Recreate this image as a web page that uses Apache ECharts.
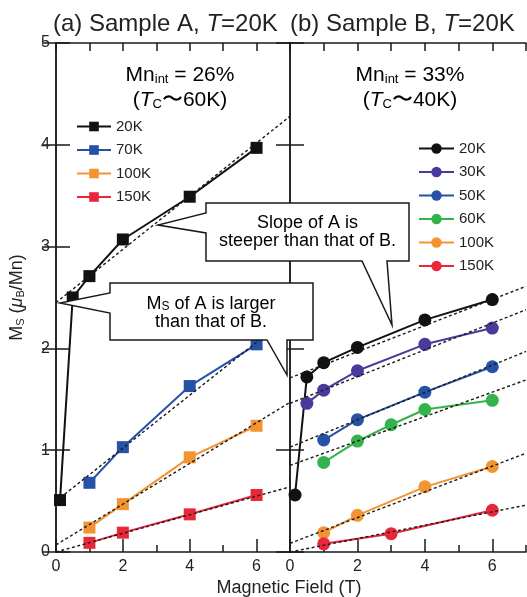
<!DOCTYPE html>
<html>
<head>
<meta charset="utf-8">
<title>Ms vs magnetic field, sample A / sample B</title>
<script src="https://cdn.jsdelivr.net/npm/echarts@6/dist/echarts.min.js"></script>
<style>
  html, body { margin: 0; padding: 0; background: #fff; }
  #chart { width: 527px; height: 597px; }
</style>
</head>
<body>
<div id="chart"></div>
<script>
// --- data: [field (T), Ms (muB/Mn)] ---
// sample A (squares)
const a20K  = [[0.12, 0.51], [0.5, 2.5], [1, 2.71], [2, 3.07], [4, 3.49], [6, 3.97]];
const a70K  = [[1, 0.68], [2, 1.03], [4, 1.63], [6, 2.04]];
const a100K = [[1, 0.24], [2, 0.47], [4, 0.93], [6, 1.24]];
const a150K = [[1, 0.09], [2, 0.19], [4, 0.37], [6, 0.56]];
// sample B (circles)
const b20K  = [[0.15, 0.56], [0.5, 1.72], [1, 1.86], [2, 2.01], [4, 2.28], [6, 2.48]];
const b30K  = [[0.5, 1.46], [1, 1.59], [2, 1.78], [4, 2.04], [6, 2.2]];
const b50K  = [[1, 1.1], [2, 1.3], [4, 1.57], [6, 1.82]];
const b60K  = [[1, 0.88], [2, 1.09], [3, 1.25], [4, 1.4], [6, 1.49]];
const b100K = [[1, 0.19], [2, 0.36], [4, 0.64], [6, 0.84]];
const b150K = [[1, 0.08], [3, 0.18], [6, 0.41]];

// dotted linear fits, value at each end of fitX
const fitX = [0, 7];
const fitA20K = [2.45, 4.28];
const fitA70K = [0.5, 2.32];
const fitA100K = [0.07, 1.47];
const fitA150K = [0.0, 0.64];
const fitB20K = [1.71, 2.61];
const fitB30K = [1.46, 2.38];
const fitB50K = [1.03, 1.97];
const fitB60K = [0.85, 1.69];
const fitB100K = [0.085, 0.97];
const fitB150K = [0.0, 0.46];

const legendA = ['A 20K', 'A 70K', 'A 100K', 'A 150K'];
const legendB = ['B 20K', 'B 30K', 'B 50K', 'B 60K', 'B 100K', 'B 150K'];

const ink = '#1a1a1a';
const font = '"Liberation Sans", Arial, Helvetica, sans-serif';
const black = '#111111', blue = '#2551a6', orange = '#f29431',
      red = '#e8273b', purple = '#4b399b', green = '#34b24c';

function dataLine(name, pts, color, symbol, size, xi, yi) {
  return {
    name: name, type: 'line', xAxisIndex: xi, yAxisIndex: yi, data: pts,
    symbol: symbol, symbolSize: size, showSymbol: true,
    itemStyle: { color: color },
    lineStyle: { color: color, width: 2 },
    emphasis: { disabled: true }, z: 2
  };
}

function fitLine(vals, xi, yi) {
  return {
    type: 'line', xAxisIndex: xi, yAxisIndex: yi, silent: true,
    data: fitX.map((x, i) => [x, vals[i]]),
    symbol: 'none',
    lineStyle: { color: ink, width: 1.4, type: [3, 2.5] },
    emphasis: { disabled: true }, z: 3
  };
}

// x axes: long ticks + labels, short ticks, top ticks
function xMajor(g) {
  return {
    type: 'value', gridIndex: g, position: 'bottom', min: 0, max: 7, interval: 2,
    axisLine: { lineStyle: { color: ink, width: 1.5 } },
    axisTick: { inside: true, length: 13, lineStyle: { color: ink, width: 1.5 } },
    axisLabel: { showMaxLabel: false, fontSize: 16, color: '#222', fontFamily: font, margin: 7 },
    splitLine: { show: false }
  };
}
function xMinor(g) {
  return {
    type: 'value', gridIndex: g, position: 'bottom', min: 0, max: 7, interval: 1,
    axisLine: { show: false },
    axisTick: { inside: true, length: 7, lineStyle: { color: ink, width: 1.5 } },
    axisLabel: { show: false }, splitLine: { show: false }
  };
}
function xTop(g) {
  return {
    type: 'value', gridIndex: g, position: 'top', min: 0, max: 7, interval: 1,
    axisLine: { lineStyle: { color: ink, width: 1.5 } },
    axisTick: { inside: true, length: 8, lineStyle: { color: ink, width: 1.5 } },
    axisLabel: { show: false }, splitLine: { show: false }
  };
}
function yAx(g, pos, labels) {
  const ax = {
    type: 'value', gridIndex: g, position: pos, min: 0, max: 5, interval: 1,
    axisLine: { show: true, lineStyle: { color: ink, width: 1.5 } },
    axisTick: { show: true, inside: true, length: 14, lineStyle: { color: ink, width: 1.5 } },
    axisLabel: { show: labels, fontSize: 16, color: '#222', fontFamily: font, margin: 6 },
    splitLine: { show: false }
  };
  if (labels) {
    ax.name = 'M{s|S} ({i|μ}{s|B}/Mn)';
    ax.nameLocation = 'middle';
    ax.nameGap = 30;
    ax.nameRotate = 90;
    ax.nameTextStyle = {
      fontSize: 18, color: '#222', fontFamily: font,
      rich: {
        s: { fontSize: 11, color: '#222', fontFamily: font, verticalAlign: 'bottom', lineHeight: 12 },
        i: { fontSize: 18, color: '#222', fontFamily: font, fontStyle: 'italic' }
      }
    };
  }
  return ax;
}

const subRich = {
  m: { fontSize: 21, lineHeight: 22, color: '#222', fontFamily: font },
  i: { fontSize: 21, lineHeight: 22, color: '#222', fontFamily: font, fontStyle: 'italic' },
  s: { fontSize: 13, lineHeight: 13, color: '#222', fontFamily: font, verticalAlign: 'bottom' }
};

function label(x, y, text) {
  return {
    type: 'text', x: x, y: y, z: 101,
    style: { text: text, rich: subRich, align: 'center', verticalAlign: 'middle' }
  };
}

const noteRich = {
  n: { fontSize: 18, lineHeight: 18, color: '#222', fontFamily: font },
  s: { fontSize: 12, lineHeight: 12, color: '#222', fontFamily: font, verticalAlign: 'bottom' }
};

function callout(points, cx, cy, text) {
  return [
    { type: 'polygon', z: 100, shape: { points: points },
      style: { fill: '#fff', stroke: ink, lineWidth: 1.5 } },
    { type: 'text', x: cx, y: cy, z: 101,
      style: { text: text, rich: noteRich, align: 'center', verticalAlign: 'middle' } }
  ];
}

const chart = echarts.init(document.getElementById('chart'), null, { renderer: 'canvas' });

const option = {
  animation: false,
  backgroundColor: '#fff',
  title: [
    { text: '(a) Sample A, {i|T}=20K', left: 53, top: 12, padding: 0,
      textStyle: { fontSize: 24, fontWeight: 'normal', color: '#222', fontFamily: font,
        rich: { i: { fontSize: 24, fontStyle: 'italic', color: '#222', fontFamily: font } } } },
    { text: '(b) Sample B, {i|T}=20K', left: 290, top: 12, padding: 0,
      textStyle: { fontSize: 24, fontWeight: 'normal', color: '#222', fontFamily: font,
        rich: { i: { fontSize: 24, fontStyle: 'italic', color: '#222', fontFamily: font } } } }
  ],
  grid: [
    { left: 56, top: 43, width: 234, height: 509 },
    { left: 290, top: 43, width: 236, height: 509 }
  ],
  legend: [
    { data: legendA, orient: 'vertical', left: 76, top: 119, padding: 0,
      itemWidth: 34, itemHeight: 12, itemGap: 8.5, selectedMode: false,
      formatter: n => n.slice(2),
      textStyle: { fontSize: 15, lineHeight: 15, color: '#222', fontFamily: font } },
    { data: legendB, orient: 'vertical', left: 418, top: 141, padding: 0,
      itemWidth: 35, itemHeight: 13, itemGap: 8.5, selectedMode: false,
      formatter: n => n.slice(2),
      textStyle: { fontSize: 15, lineHeight: 15, color: '#222', fontFamily: font } }
  ],
  xAxis: [xMajor(0), xMinor(0), xTop(0), xMajor(1), xMinor(1), xTop(1)],
  yAxis: [yAx(0, 'left', true), yAx(0, 'right', false), yAx(1, 'left', false), yAx(1, 'right', false)],
  series: [
    dataLine('A 20K', a20K, black, 'rect', 12, 0, 0),
    dataLine('A 70K', a70K, blue, 'rect', 12, 0, 0),
    dataLine('A 100K', a100K, orange, 'rect', 12, 0, 0),
    dataLine('A 150K', a150K, red, 'rect', 12, 0, 0),
    fitLine(fitA20K, 0, 0), fitLine(fitA70K, 0, 0),
    fitLine(fitA100K, 0, 0), fitLine(fitA150K, 0, 0),
    dataLine('B 20K', b20K, black, 'circle', 13, 3, 2),
    dataLine('B 30K', b30K, purple, 'circle', 13, 3, 2),
    dataLine('B 50K', b50K, blue, 'circle', 13, 3, 2),
    dataLine('B 60K', b60K, green, 'circle', 13, 3, 2),
    dataLine('B 100K', b100K, orange, 'circle', 13, 3, 2),
    dataLine('B 150K', b150K, red, 'circle', 13, 3, 2),
    fitLine(fitB20K, 3, 2), fitLine(fitB30K, 3, 2), fitLine(fitB50K, 3, 2),
    fitLine(fitB60K, 3, 2), fitLine(fitB100K, 3, 2), fitLine(fitB150K, 3, 2)
  ],
  graphic: [
    label(180, 75, '{m|Mn}{s|int}{m| = 26%}'),
    label(180, 100, '{m|(}{i|T}{s|C}{m|〜60K)}'),
    label(410, 75, '{m|Mn}{s|int}{m| = 33%}'),
    label(410, 100, '{m|(}{i|T}{s|C}{m|〜40K)}'),
    ...callout([[206, 203], [409, 203], [409, 261], [387, 261], [392, 325], [362, 261],
                [206, 261], [206, 233], [158, 225], [206, 213]],
               307.5, 232.5, '{n|Slope of A is}\n{n|steeper than that of B.}'),
    ...callout([[110, 283], [313, 283], [313, 340], [287, 340], [287, 375], [267, 340],
                [110, 340], [110, 313], [60, 303], [110, 293]],
               211, 313, '{n|M}{s|S}{n| of A is larger}\n{n|than that of B.}'),
    { type: 'text', x: 289, y: 588, z: 101,
      style: { text: 'Magnetic Field (T)', fontSize: 18, fontFamily: font, fill: '#222',
        align: 'center', verticalAlign: 'middle' } }
  ]
};

chart.setOption(option);
</script>
</body>
</html>
